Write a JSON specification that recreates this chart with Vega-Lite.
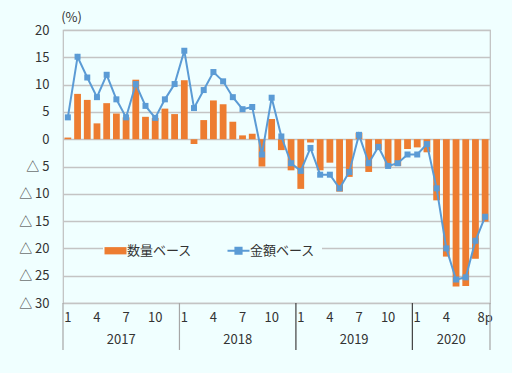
{
  "$schema": "https://vega.github.io/schema/vega-lite/v6.json",
  "width": 427,
  "height": 273,
  "autosize": {"type": "none"},
  "padding": {"left": 63, "top": 30, "right": 22, "bottom": 70},
  "background": "#F0FFFF",
  "config": {
    "font": "Noto Sans CJK JP",
    "view": {"stroke": "#BFBFBF", "strokeWidth": 1.2}
  },
  "datasets": {
    "main": [
      {"m": "2017-01", "series": "数量ベース", "value": 0.3}, {"m": "2017-01", "series": "金額ベース", "value": 4.0},
      {"m": "2017-02", "series": "数量ベース", "value": 8.3}, {"m": "2017-02", "series": "金額ベース", "value": 15.1},
      {"m": "2017-03", "series": "数量ベース", "value": 7.2}, {"m": "2017-03", "series": "金額ベース", "value": 11.3},
      {"m": "2017-04", "series": "数量ベース", "value": 2.9}, {"m": "2017-04", "series": "金額ベース", "value": 7.7},
      {"m": "2017-05", "series": "数量ベース", "value": 6.6}, {"m": "2017-05", "series": "金額ベース", "value": 11.8},
      {"m": "2017-06", "series": "数量ベース", "value": 4.7}, {"m": "2017-06", "series": "金額ベース", "value": 7.3},
      {"m": "2017-07", "series": "数量ベース", "value": 4.0}, {"m": "2017-07", "series": "金額ベース", "value": 4.0},
      {"m": "2017-08", "series": "数量ベース", "value": 10.9}, {"m": "2017-08", "series": "金額ベース", "value": 10.1},
      {"m": "2017-09", "series": "数量ベース", "value": 4.1}, {"m": "2017-09", "series": "金額ベース", "value": 6.1},
      {"m": "2017-10", "series": "数量ベース", "value": 3.9}, {"m": "2017-10", "series": "金額ベース", "value": 3.9},
      {"m": "2017-11", "series": "数量ベース", "value": 5.6}, {"m": "2017-11", "series": "金額ベース", "value": 7.3},
      {"m": "2017-12", "series": "数量ベース", "value": 4.6}, {"m": "2017-12", "series": "金額ベース", "value": 10.1},
      {"m": "2018-01", "series": "数量ベース", "value": 10.8}, {"m": "2018-01", "series": "金額ベース", "value": 16.2},
      {"m": "2018-02", "series": "数量ベース", "value": -0.9}, {"m": "2018-02", "series": "金額ベース", "value": 5.7},
      {"m": "2018-03", "series": "数量ベース", "value": 3.5}, {"m": "2018-03", "series": "金額ベース", "value": 9.0},
      {"m": "2018-04", "series": "数量ベース", "value": 7.1}, {"m": "2018-04", "series": "金額ベース", "value": 12.3},
      {"m": "2018-05", "series": "数量ベース", "value": 6.4}, {"m": "2018-05", "series": "金額ベース", "value": 10.6},
      {"m": "2018-06", "series": "数量ベース", "value": 3.2}, {"m": "2018-06", "series": "金額ベース", "value": 7.7},
      {"m": "2018-07", "series": "数量ベース", "value": 0.7}, {"m": "2018-07", "series": "金額ベース", "value": 5.5},
      {"m": "2018-08", "series": "数量ベース", "value": 1.0}, {"m": "2018-08", "series": "金額ベース", "value": 5.9},
      {"m": "2018-09", "series": "数量ベース", "value": -5.0}, {"m": "2018-09", "series": "金額ベース", "value": -2.8},
      {"m": "2018-10", "series": "数量ベース", "value": 3.7}, {"m": "2018-10", "series": "金額ベース", "value": 7.6},
      {"m": "2018-11", "series": "数量ベース", "value": -2.0}, {"m": "2018-11", "series": "金額ベース", "value": 0.5},
      {"m": "2018-12", "series": "数量ベース", "value": -5.7}, {"m": "2018-12", "series": "金額ベース", "value": -4.4},
      {"m": "2019-01", "series": "数量ベース", "value": -9.1}, {"m": "2019-01", "series": "金額ベース", "value": -5.8},
      {"m": "2019-02", "series": "数量ベース", "value": -0.6}, {"m": "2019-02", "series": "金額ベース", "value": -1.6},
      {"m": "2019-03", "series": "数量ベース", "value": -5.7}, {"m": "2019-03", "series": "金額ベース", "value": -6.5},
      {"m": "2019-04", "series": "数量ベース", "value": -4.3}, {"m": "2019-04", "series": "金額ベース", "value": -6.5},
      {"m": "2019-05", "series": "数量ベース", "value": -9.6}, {"m": "2019-05", "series": "金額ベース", "value": -9.0},
      {"m": "2019-06", "series": "数量ベース", "value": -6.9}, {"m": "2019-06", "series": "金額ベース", "value": -6.0},
      {"m": "2019-07", "series": "数量ベース", "value": 1.2}, {"m": "2019-07", "series": "金額ベース", "value": 0.8},
      {"m": "2019-08", "series": "数量ベース", "value": -6.0}, {"m": "2019-08", "series": "金額ベース", "value": -4.4},
      {"m": "2019-09", "series": "数量ベース", "value": -2.0}, {"m": "2019-09", "series": "金額ベース", "value": -1.4},
      {"m": "2019-10", "series": "数量ベース", "value": -5.1}, {"m": "2019-10", "series": "金額ベース", "value": -4.9},
      {"m": "2019-11", "series": "数量ベース", "value": -4.9}, {"m": "2019-11", "series": "金額ベース", "value": -4.4},
      {"m": "2019-12", "series": "数量ベース", "value": -1.8}, {"m": "2019-12", "series": "金額ベース", "value": -2.8},
      {"m": "2020-01", "series": "数量ベース", "value": -1.5}, {"m": "2020-01", "series": "金額ベース", "value": -2.8},
      {"m": "2020-02", "series": "数量ベース", "value": -2.4}, {"m": "2020-02", "series": "金額ベース", "value": -0.9},
      {"m": "2020-03", "series": "数量ベース", "value": -11.2}, {"m": "2020-03", "series": "金額ベース", "value": -9.0},
      {"m": "2020-04", "series": "数量ベース", "value": -21.5}, {"m": "2020-04", "series": "金額ベース", "value": -20.0},
      {"m": "2020-05", "series": "数量ベース", "value": -27.0}, {"m": "2020-05", "series": "金額ベース", "value": -25.7},
      {"m": "2020-06", "series": "数量ベース", "value": -26.9}, {"m": "2020-06", "series": "金額ベース", "value": -25.3},
      {"m": "2020-07", "series": "数量ベース", "value": -21.9}, {"m": "2020-07", "series": "金額ベース", "value": -18.6},
      {"m": "2020-08", "series": "数量ベース", "value": -15.1}, {"m": "2020-08", "series": "金額ベース", "value": -14.2}
    ],
    "sepGray": [{"m": "2017-01"}, {"m": "2018-01"}],
    "sepDark": [{"m": "2019-01"}, {"m": "2020-01"}],
    "sepEnd": [{"m": "2020-08"}]
  },
  "resolve": {"axis": {"x": "independent"}},
  "layer": [
    {
      "data": {"name": "main"},
      "transform": [{"filter": "datum.series === '数量ベース'"}],
      "mark": {"type": "bar", "width": {"band": 0.7}},
      "encoding": {
        "x": {
          "field": "m", "type": "ordinal", "sort": null,
          "scale": {"paddingInner": 0, "paddingOuter": 0},
          "axis": {
            "orient": "bottom", "title": null, "domain": false, "ticks": false, "grid": false,
            "labelAngle": 0, "labelOverlap": false, "labelPadding": 8, "labelFontSize": 13,
            "labelColor": "#333333", "labelFont": "Noto Sans CJK JP",
            "labelExpr": "datum.value === '2020-08' ? '8p' : (datum.value === '2020-07' ? '' : (indexof(['01','04','07','10'], slice(datum.value, 5)) >= 0 ? '' + toNumber(slice(datum.value, 5)) : ''))"
          }
        },
        "y": {
          "field": "value", "type": "quantitative",
          "scale": {"domain": [-30, 20], "nice": false, "zero": false},
          "axis": {
            "title": "(%)", "titleAngle": 0, "titleX": 8, "titleY": -13, "titleAlign": "center",
            "titleBaseline": "middle", "titleFontSize": 13, "titleFontWeight": "normal", "titleColor": "#333333",
            "tickCount": 10, "labelOverlap": false,
            "domain": false, "ticks": false, "grid": true, "gridColor": "#C4C4C4", "gridWidth": 1.5,
            "labelPadding": 14, "labelFontSize": 13, "labelColor": "#333333", "labelFont": "Noto Sans CJK JP",
            "labelExpr": "datum.value < 0 ? '△\u00a0' + abs(datum.value) : '' + datum.value"
          }
        },
        "color": {
          "field": "series", "type": "nominal",
          "scale": {"domain": ["数量ベース", "金額ベース"], "range": ["#ED7D31", "#5B9BD5"]},
          "legend": {
            "title": null, "orient": "none", "legendX": 40, "legendY": 208, "direction": "horizontal",
            "fillColor": "#F0FFFF", "padding": 6, "symbolSize": 484, "labelFontSize": 13,
            "labelFont": "Noto Sans CJK JP", "labelColor": "#333333", "columnPadding": 30, "labelOffset": 5,
            "symbolStrokeWidth": 2,
            "encode": {
              "symbols": {
                "update": {
                  "shape": {"signal": "datum.value === '数量ベース' ? 'M-1,-0.33H1V0.33H-1Z' : 'M-1,0H1M-0.28,-0.28H0.28V0.28H-0.28Z'"},
                  "fill": {"signal": "datum.value === '数量ベース' ? '#ED7D31' : '#5B9BD5'"},
                  "stroke": {"signal": "datum.value === '数量ベース' ? '#ED7D31' : '#5B9BD5'"},
                  "strokeWidth": {"signal": "datum.value === '数量ベース' ? 0 : 2"},
                  "opacity": {"value": 1}
                }
              }
            }
          }
        }
      }
    },
    {
      "data": {"name": "main"},
      "transform": [{"filter": "datum.series === '金額ベース'"}],
      "mark": {"type": "line", "strokeWidth": 2, "point": {"shape": "square", "size": 36, "filled": true}},
      "encoding": {
        "x": {
          "field": "m", "type": "ordinal", "sort": null,
          "axis": {
            "orient": "bottom", "title": null, "domain": false, "ticks": false, "grid": false,
            "labelAngle": 0, "labelOverlap": false, "labelPadding": 30, "labelFontSize": 13,
            "labelColor": "#333333", "labelFont": "Noto Sans CJK JP", "labelOffset": -4.85,
            "labelExpr": "datum.value === '2017-07' ? '2017' : (datum.value === '2018-07' ? '2018' : (datum.value === '2019-07' ? '2019' : (datum.value === '2020-05' ? '2020' : '')))"
          }
        },
        "y": {"field": "value", "type": "quantitative"},
        "color": {"field": "series", "type": "nominal"}
      }
    },
    {
      "data": {"name": "sepGray"},
      "mark": {"type": "rule", "color": "#A6A6A6", "strokeWidth": 1.2},
      "encoding": {
        "x": {"field": "m", "type": "ordinal", "bandPosition": 0, "axis": null},
        "y": {"datum": -30},
        "y2": {"datum": -38.6}
      }
    },
    {
      "data": {"name": "sepDark"},
      "mark": {"type": "rule", "color": "#404040", "strokeWidth": 1.2},
      "encoding": {
        "x": {"field": "m", "type": "ordinal", "bandPosition": 0, "axis": null},
        "y": {"datum": -30},
        "y2": {"datum": -38.6}
      }
    },
    {
      "data": {"name": "sepEnd"},
      "mark": {"type": "rule", "color": "#A6A6A6", "strokeWidth": 1.2},
      "encoding": {
        "x": {"field": "m", "type": "ordinal", "bandPosition": 1, "axis": null},
        "y": {"datum": -30},
        "y2": {"datum": -38.6}
      }
    }
  ]
}
